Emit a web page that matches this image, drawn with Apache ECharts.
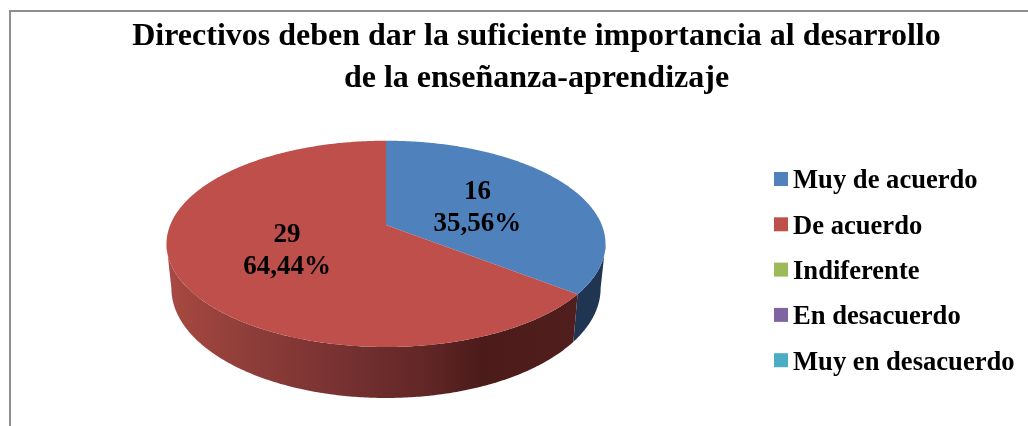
<!DOCTYPE html>
<html>
<head>
<meta charset="utf-8">
<style>html,body{margin:0;padding:0;background:#fff}#c{width:1028px;height:426px}</style>
<script src="https://cdn.jsdelivr.net/npm/echarts@6/dist/echarts.min.js"></script>
</head>
<body>
<div id="c"></div>
<script>
const titleText = 'Directivos deben dar la suficiente importancia al desarrollo\nde la enseñanza-aprendizaje';
const categories = ['Muy de acuerdo', 'De acuerdo', 'Indiferente', 'En desacuerdo', 'Muy en desacuerdo'];
const values = [16, 29, 0, 0, 0];
const percentLabels = ['35,56%', '64,44%', '', '', ''];
const colors = ['#4F81BD', '#BE4F4B', '#9BBB59', '#8064A2', '#4BACC6'];
const total = values.reduce((a, b) => a + b, 0);

// Perspective projection of the pie disc (top and bottom faces)
const disc = { cx: 386, k: 0.1827 };
const topFace = { y0: 225, a: 215.8, b: 99.7 };
const bottomFace = { y0: 268.3, a: 211, b: 106 };
// Angles at which the disc outline is widest: the visible wall lies between them
const wallStart = Math.acos(-disc.k);
const wallEnd = 2 * Math.PI - wallStart;
function project(face, angle, r) {
  const u = Math.sin(angle) * r, v = -Math.cos(angle) * r, d = 1 - disc.k * v;
  return [disc.cx + face.a * u / d, face.y0 + face.b * v / d];
}
function arc(face, a0, a1) {
  const n = Math.max(2, Math.ceil((a1 - a0) / 0.01)), pts = [];
  for (let i = 0; i <= n; i++) pts.push(project(face, a0 + (a1 - a0) * i / n, 1));
  return pts;
}
function sideFill(i) {
  const mk = (stops) => ({ type: 'linear', x: 166, y: 0, x2: 606, y2: 0, global: true,
    colorStops: stops.map(s => ({ offset: s[0], color: s[1] })) });
  if (i === 0) return '#1F3552';
  return mk([[0, '#A9494A'], [0.03, '#A4473F'], [0.2, '#8D3D39'], [0.42, '#753030'],
             [0.6, '#602625'], [0.72, '#4B1B1A'], [1, '#521F1E']]);
}
function sliceRange(i) {
  const before = values.slice(0, i).reduce((a, b) => a + b, 0);
  return [before / total * 2 * Math.PI, (before + values[i]) / total * 2 * Math.PI];
}
const labelFont = 'bold 27px "Liberation Serif"';
const series = categories.map((name, i) => ({
  type: 'custom',
  name: name,
  coordinateSystem: 'none',
  itemStyle: { color: colors[i] },
  z: 2 + i,
  silent: true,
  data: [[values[i]]],
  renderItem: function () {
    if (!values[i]) return { type: 'group', children: [] };
    const [a0, a1] = sliceRange(i);
    const w0 = Math.max(a0, wallStart), w1 = Math.min(a1, wallEnd);
    const children = [];
    if (w1 > w0) {
      children.push({ type: 'polygon',
        shape: { points: arc(topFace, w0, w1).concat(arc(bottomFace, w0, w1).reverse()) },
        style: { fill: sideFill(i) } });
    }
    const apex = project(topFace, 0, 0);
    const lp = project(topFace, (a0 + a1) / 2, 0.49);
    children.push(
      { type: 'polygon', shape: { points: [apex].concat(arc(topFace, a0, a1)) }, style: { fill: colors[i] } },
      { type: 'text', x: lp[0], y: lp[1] + 3.5,
        style: { text: values[i] + '\n' + percentLabels[i], font: labelFont, lineHeight: 32,
                 fill: '#000', align: 'center', verticalAlign: 'middle' } }
    );
    return { type: 'group', children: children };
  }
}));

const chart = echarts.init(document.getElementById('c'), null, { renderer: 'canvas' });
chart.setOption({
  animation: false,
  backgroundColor: '#fff',
  title: {
    text: titleText,
    left: 531.5, top: 11, textAlign: 'center',
    textStyle: { fontFamily: 'Liberation Serif', fontWeight: 'bold', fontSize: 32, lineHeight: 42, color: '#000' }
  },
  legend: {
    orient: 'vertical', left: 774, top: 161.5,
    icon: 'rect', itemWidth: 14, itemHeight: 14, itemGap: 10.3,
    padding: 0, selectedMode: false,
    data: categories,
    formatter: '{t|{name}}',
    textStyle: {
      rich: { t: { fontFamily: 'Liberation Serif', fontWeight: 'bold', fontSize: 26.6, height: 30, lineHeight: 30, color: '#000', padding: [5, 0, 0, 0] } }
    }
  },
  graphic: [{
    type: 'rect', silent: true, z: 0,
    shape: { x: 10, y: 11, width: 1040, height: 440 },
    style: { fill: 'none', stroke: '#8F8F8F', lineWidth: 2 }
  }],
  series: series
});
</script>
</body>
</html>
